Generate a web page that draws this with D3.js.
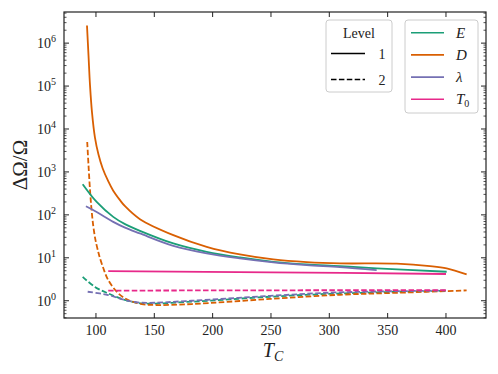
<!DOCTYPE html>
<html><head><meta charset="utf-8">
<script src="https://cdn.jsdelivr.net/npm/d3@7"></script>
<style>body{margin:0;background:#fff}svg{display:block}</style>
</head><body><svg id="c" width="498" height="374"></svg>
<script>
// ---- data (T_C, ΔΩ/Ω) ----
const xTicks = [100,150,200,250,300,350,400];
const yTickExps = [0,1,2,3,4,5,6];
const seriesNames = ["E","D","λ","T0"];
const seriesColors = ["#1b9e77","#d95f02","#7570b3","#e7298a"];
const levelNames = ["1","2"];

const E1 = [[88.6,518],[100.6,200],[114.8,89.8],[124.9,60.8],[137.7,42.5],[166.3,21.6],[194.9,13.8],[223.4,10.2],[252,8.07],[280.6,7.02],[309.1,6.41],[340.6,5.67],[400.6,4.73]];
const D1 = [[92.3,2.58e6],[93.6,5.18e5],[94.9,1.04e5],[96.6,2.44e4],[99.1,6410],[102.1,2580],[105.7,1220],[110.5,608],[114.8,365],[120.6,220],[124.9,159],[137.7,79.4],[166.3,33.7],[194.9,18.0],[223.4,12.0],[252,9.18],[280.6,7.94],[309.1,7.41],[357.7,7.3],[386.3,6.41],[400.6,5.67],[417.7,4.11]];
const L1 = [[91.4,159],[100.6,117],[114.8,68.7],[124.9,50.4],[137.7,36.9],[166.3,19.0],[194.9,12.7],[223.4,9.68],[252,7.82],[280.6,6.76],[309.1,6.08],[340.6,5.18]];
const T01 = [[110.5,4.9],[250,4.6],[400,4.2]];

const E2 = [[88.6,3.6],[99.1,2.1],[110.5,1.48],[124.9,1.04],[139.2,0.87],[182,0.95],[249,1.24],[309,1.48],[400,1.71]];
const D2 = [[92.5,4990],[93.6,1430],[94.9,375],[96.1,143],[97.7,54.6],[99.6,25.8],[102,13.6],[103.4,9.84],[106.9,5.18],[110.5,3.03],[119.1,1.49],[127.7,1.04],[139.2,0.838],[153.4,0.794],[182,0.838],[249.1,1.10],[309.1,1.38],[357.7,1.53],[417.7,1.74]];
const L2 = [[92.9,1.62],[110.5,1.36],[124.9,1.04],[139.2,0.9],[182,1.0],[249,1.3],[309,1.57],[400,1.72]];
const T02 = [[110.5,1.72],[250,1.75],[400,1.76]];

const level1 = [E1,D1,L1,T01];
const level2 = [E2,D2,L2,T02];

// ---- layout ----
const FONT = "Liberation Serif";
const svg = d3.select("#c").attr("font-family",FONT);
const L = 64, R = 486, T = 12, B = 318;
const x = d3.scaleLinear().domain([72.6,434.3]).range([L,R]);
const y = d3.scaleLog().domain([Math.pow(10,-0.402),Math.pow(10,6.725)]).range([B,T]);

const line = d3.line().x(d=>x(d[0])).y(d=>y(d[1])).curve(d3.curveCatmullRom.alpha(0.5));
const g = svg.append("g");
g.append("clipPath").attr("id","clip").append("rect").attr("x",L).attr("y",T).attr("width",R-L).attr("height",B-T);
const plot = g.append("g").attr("clip-path","url(#clip)");
level2.forEach((s,i)=>plot.append("path").attr("d",line(s)).attr("fill","none")
  .attr("stroke",seriesColors[i]).attr("stroke-width",1.8).attr("stroke-dasharray","5.5,2.4"));
level1.forEach((s,i)=>plot.append("path").attr("d",line(s)).attr("fill","none")
  .attr("stroke",seriesColors[i]).attr("stroke-width",1.8));

// ---- axes (ticks inward on all sides) ----
const ax = svg.append("g").attr("stroke","#222");
const minorY = [];
for (let e=-1;e<=6;e++) for (let m=2;m<=9;m++){const v=m*Math.pow(10,e); if(v>=y.domain()[0]&&v<=y.domain()[1]) minorY.push(v);}
xTicks.forEach(t=>{
  ax.append("line").attr("x1",x(t)).attr("x2",x(t)).attr("y1",B).attr("y2",B-5);
  ax.append("line").attr("x1",x(t)).attr("x2",x(t)).attr("y1",T).attr("y2",T+5);
});
yTickExps.forEach(e=>{
  const v=Math.pow(10,e);
  ax.append("line").attr("x1",L).attr("x2",L+5).attr("y1",y(v)).attr("y2",y(v));
  ax.append("line").attr("x1",R).attr("x2",R-5).attr("y1",y(v)).attr("y2",y(v));
});
minorY.forEach(v=>{
  ax.append("line").attr("x1",L).attr("x2",L+2.5).attr("y1",y(v)).attr("y2",y(v)).attr("stroke-width",0.8);
  ax.append("line").attr("x1",R).attr("x2",R-2.5).attr("y1",y(v)).attr("y2",y(v)).attr("stroke-width",0.8);
});
svg.append("rect").attr("x",L).attr("y",T).attr("width",R-L).attr("height",B-T)
  .attr("fill","none").attr("stroke","#222").attr("stroke-width",1.2);

const txt = (sel)=>sel.attr("fill","#222").attr("font-family",FONT);
xTicks.forEach(t=>txt(svg.append("text")).attr("x",x(t)).attr("y",B+17).attr("text-anchor","middle")
  .attr("font-size",14).text(t));
yTickExps.forEach(e=>{
  const t=txt(svg.append("text")).attr("x",L-8).attr("y",y(Math.pow(10,e))+5).attr("text-anchor","end").attr("font-size",14);
  t.append("tspan").text("10");
  t.append("tspan").attr("dy",-6).attr("font-size",10).text(e);
});

// axis labels
const xl = txt(svg.append("text")).attr("x",(L+R)/2-2).attr("y",357).attr("text-anchor","middle").attr("font-size",20);
xl.append("tspan").attr("font-style","italic").text("T");
xl.append("tspan").attr("font-style","italic").attr("font-size",14).attr("dy",4).text("C");
txt(svg.append("text")).attr("transform",`translate(27,${(T+B)/2}) rotate(-90)`).attr("text-anchor","middle")
  .attr("font-size",21).text("ΔΩ/Ω");

// ---- legends ----
const lg1 = svg.append("g");
lg1.append("rect").attr("x",326).attr("y",20).attr("width",66).attr("height",72).attr("rx",3)
  .attr("fill","#fff").attr("fill-opacity",0.8).attr("stroke","#ccc");
txt(lg1.append("text")).attr("x",359).attr("y",38).attr("text-anchor","middle").attr("font-size",14).text("Level");
levelNames.forEach((n,i)=>{
  const yy = 53.5 + i*26;
  lg1.append("line").attr("x1",331).attr("x2",365).attr("y1",yy).attr("y2",yy).attr("stroke","#000")
    .attr("stroke-width",1.6).attr("stroke-dasharray",i? "5.5,2.4":null);
  txt(lg1.append("text")).attr("x",382).attr("y",yy+5).attr("text-anchor","middle").attr("font-size",14).text(n);
});
const lg2 = svg.append("g");
lg2.append("rect").attr("x",405).attr("y",20).attr("width",73).attr("height",93).attr("rx",3)
  .attr("fill","#fff").attr("fill-opacity",0.8).attr("stroke","#ccc");
seriesNames.forEach((n,i)=>{
  const yy = 32.7 + i*22.2;
  lg2.append("line").attr("x1",411).attr("x2",444).attr("y1",yy).attr("y2",yy)
    .attr("stroke",seriesColors[i]).attr("stroke-width",1.6);
  const t = txt(lg2.append("text")).attr("x",456).attr("y",yy+5).attr("font-size",15).attr("font-style","italic");
  if (n==="T0"){ t.append("tspan").text("T"); t.append("tspan").attr("font-style","normal").attr("font-size",10).attr("dy",3).text("0"); }
  else t.text(n);
});
</script></body></html>
